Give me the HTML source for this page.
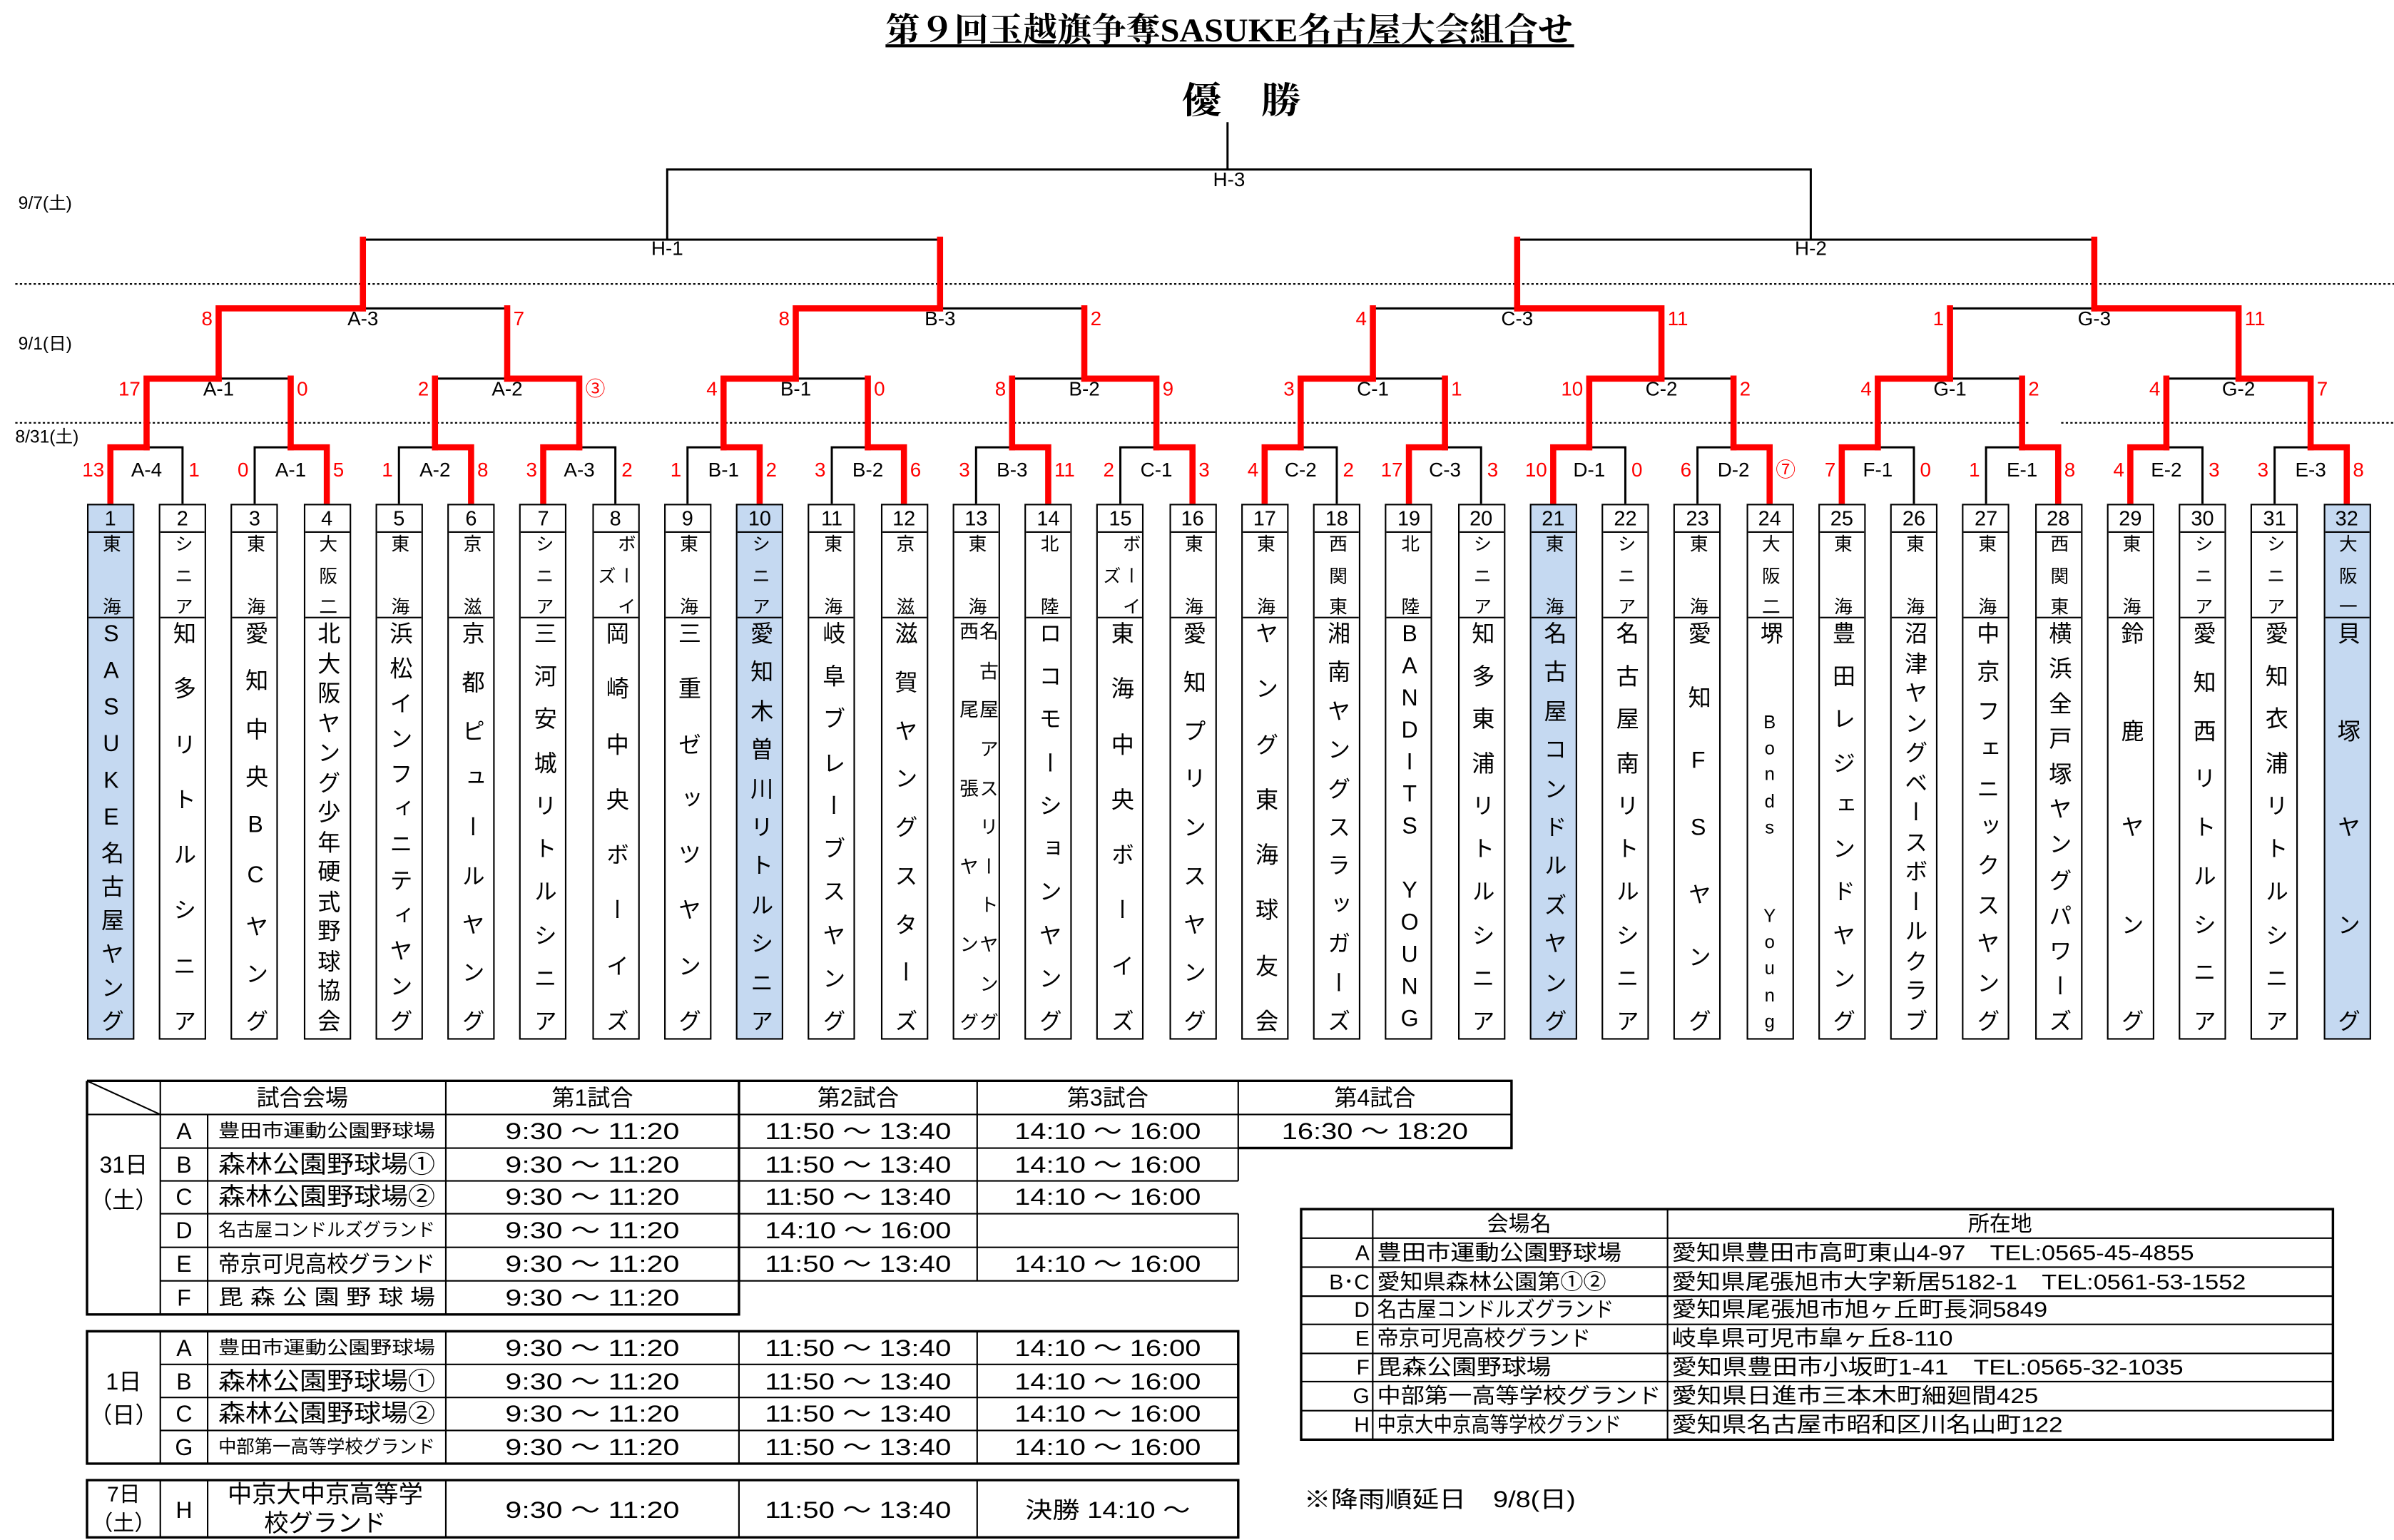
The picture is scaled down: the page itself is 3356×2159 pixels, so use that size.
<!DOCTYPE html>
<html><head><meta charset="utf-8">
<style>
html,body{margin:0;padding:0;background:#fff;width:3356px;height:2159px;overflow:hidden;}
#wrap{position:absolute;left:0;top:0;width:3356px;height:2159px;overflow:hidden;}
#c{position:absolute;left:0;top:0;width:1568px;height:1008.7px;overflow:hidden;transform:scale(2.14031);transform-origin:0 0;font-family:"Liberation Sans","Noto Sans CJK JP",sans-serif;}
svg{position:absolute;left:0;top:0;}
.b{position:absolute;top:330px;width:31px;height:351px;border:1.6px solid #000;box-sizing:border-box;display:flex;flex-direction:column;background:#fff;overflow:hidden;}
.b.h{background:#c5d9f1;}
.n{height:17px;border-bottom:1.6px solid #000;font-size:13.5px;line-height:17px;text-align:center;flex:none;}
.a{height:55px;border-bottom:1.6px solid #000;flex:none;display:flex;flex-direction:row-reverse;justify-content:center;overflow:hidden;}
.t{height:273px;flex:none;display:flex;flex-direction:row-reverse;justify-content:center;overflow:hidden;}
.col{writing-mode:vertical-rl;text-orientation:upright;display:flex;justify-content:space-between;align-items:center;box-sizing:border-box;}
.a .col{font-size:12px;padding:1px 0;line-height:13px;height:55px;}
.t .col{font-size:15px;padding:2px 0;line-height:16px;height:273px;}
.t .col.s{font-size:12.5px;line-height:13px;}
.a .col.m{justify-content:center;}
.lo{font-size:12px;}
</style></head><body><div id="wrap"><div id="c">
<svg width="1568" height="1009" viewBox="0 0 1568 1009" font-family="Liberation Sans, Noto Sans CJK JP, sans-serif">
<text x="805" y="27" font-size="22" font-weight="bold" text-anchor="middle" textLength="450" lengthAdjust="spacingAndGlyphs" font-family="Liberation Serif, Noto Serif CJK SC, serif">第９回玉越旗争奪SASUKE名古屋大会組合せ</text>
<line x1="580" y1="30" x2="1031" y2="30" stroke="#000" stroke-width="2"/>
<text x="813" y="74" font-size="24" font-weight="bold" text-anchor="middle" textLength="78" lengthAdjust="spacingAndGlyphs" font-family="Liberation Serif, Noto Serif CJK SC, serif">優　勝</text>
<g font-size="11.5">
<text x="12" y="137">9/7(土)</text>
<text x="12" y="229">9/1(日)</text>
<text x="10" y="290">8/31(土)</text>
</g>
<g stroke="#000" stroke-width="1" stroke-dasharray="1.5,1.5">
<line x1="10" y1="186" x2="1568" y2="186"/>
<line x1="10" y1="277" x2="1330" y2="277"/>
<line x1="1350" y1="277" x2="1568" y2="277"/>
</g>
<g fill="none" stroke="#000" stroke-width="1.4">
<path d="M72.3 330V293H119.55V330M166.8 330V293H214.05V330M261.3 330V293H308.55V330M355.8 330V293H403.05V330M450.3 330V293H497.55V330M544.8 330V293H592.05V330M639.3 330V293H686.55V330M733.8 330V293H781.05V330M828.3 330V293H875.55V330M922.8 330V293H970.05V330M1017.3 330V293H1064.55V330M1111.8 330V293H1159.05V330M1206.3 330V293H1253.55V330M1300.8 330V293H1348.05V330M1395.3 330V293H1442.55V330M1489.8 330V293H1537.05V330"/>
<path d="M96 293V248H190.4V293M284.9 293V248H379.4V293M473.9 293V248H568.4V293M662.9 293V248H757.4V293M851.9 293V248H946.4V293M1040.9 293V248H1135.4V293M1229.9 293V248H1324.4V293M1418.9 293V248H1513.4V293"/>
<path d="M143.2 248V202H332.2V248M521.2 248V202H710.2V248M899.2 248V202H1088.2V248M1277.2 248V202H1466.2V248"/>
<path d="M237.7 202V157H615.7V202M993.7 202V157H1371.7V202"/>
<path d="M437 157V111H1186V157M804 111V80"/>
</g>
<g fill="none" stroke="#f00" stroke-width="4" stroke-linejoin="miter" stroke-linecap="square">
<path d="M72.3 329V293H96M214.05 329V293H190.4M308.55 329V293H284.9M355.8 329V293H379.4M497.55 329V293H473.9M592.05 329V293H568.4M686.55 329V293H662.9M781.05 329V293H757.4M828.3 329V293H851.9M922.8 329V293H946.4M1017.3 329V293H1040.9M1159.05 329V293H1135.4M1206.3 329V293H1229.9M1348.05 329V293H1324.4M1395.3 329V293H1418.9M1537.05 329V293H1513.4"/>
<path d="M96 293V248H143.2M190.4 293V248M379.4 293V248H332.2M284.9 293V248M473.9 293V248H521.2M568.4 293V248M757.4 293V248H710.2M662.9 293V248M851.9 293V248H899.2M946.4 293V248M1040.9 293V248H1088.2M1135.4 293V248M1229.9 293V248H1277.2M1324.4 293V248M1513.4 293V248H1466.2M1418.9 293V248"/>
<path d="M143.2 248V202H237.7M332.2 248V202M521.2 248V202H615.7M710.2 248V202M1088.2 248V202H993.7M899.2 248V202M1466.2 248V202H1371.7M1277.2 248V202"/>
<path d="M237.7 202V157M615.7 202V157M993.7 202V157M1371.7 202V157"/>
</g>
<g font-size="13" text-anchor="middle">
<text x="96" y="312">A-4</text><text x="190.4" y="312">A-1</text><text x="284.9" y="312">A-2</text><text x="379.4" y="312">A-3</text>
<text x="473.9" y="312">B-1</text><text x="568.4" y="312">B-2</text><text x="662.9" y="312">B-3</text><text x="757.4" y="312">C-1</text>
<text x="851.9" y="312">C-2</text><text x="946.4" y="312">C-3</text><text x="1040.9" y="312">D-1</text><text x="1135.4" y="312">D-2</text>
<text x="1229.9" y="312">F-1</text><text x="1324.4" y="312">E-1</text><text x="1418.9" y="312">E-2</text><text x="1513.4" y="312">E-3</text>
<text x="143.2" y="259">A-1</text><text x="332.2" y="259">A-2</text><text x="521.2" y="259">B-1</text><text x="710.2" y="259">B-2</text>
<text x="899.2" y="259">C-1</text><text x="1088.2" y="259">C-2</text><text x="1277.2" y="259">G-1</text><text x="1466.2" y="259">G-2</text>
<text x="237.7" y="213">A-3</text><text x="615.7" y="213">B-3</text><text x="993.7" y="213">C-3</text><text x="1371.7" y="213">G-3</text>
<text x="437" y="167">H-1</text><text x="1186" y="167">H-2</text><text x="805" y="122">H-3</text>
</g>
<g font-size="13" fill="#f00" text-anchor="end">
<text x="68.3" y="312">13</text><text x="162.8" y="312">0</text><text x="257.3" y="312">1</text><text x="351.8" y="312">3</text>
<text x="446.3" y="312">1</text><text x="540.8" y="312">3</text><text x="635.3" y="312">3</text><text x="729.8" y="312">2</text>
<text x="824.3" y="312">4</text><text x="918.8" y="312">17</text><text x="1013.3" y="312">10</text><text x="1107.8" y="312">6</text>
<text x="1202.3" y="312">7</text><text x="1296.8" y="312">1</text><text x="1391.3" y="312">4</text><text x="1485.8" y="312">3</text>
<text x="92" y="259">17</text><text x="280.9" y="259">2</text><text x="469.9" y="259">4</text><text x="658.9" y="259">8</text>
<text x="847.9" y="259">3</text><text x="1036.9" y="259">10</text><text x="1225.9" y="259">4</text><text x="1414.9" y="259">4</text>
<text x="139.2" y="213">8</text><text x="517.2" y="213">8</text><text x="895.2" y="213">4</text><text x="1273.2" y="213">1</text>
</g>
<g font-size="13" fill="#f00" text-anchor="start">
<text x="123.55" y="312">1</text><text x="218.05" y="312">5</text><text x="312.55" y="312">8</text><text x="407.05" y="312">2</text>
<text x="501.55" y="312">2</text><text x="596.05" y="312">6</text><text x="690.55" y="312">11</text><text x="785.05" y="312">3</text>
<text x="879.55" y="312">2</text><text x="974.05" y="312">3</text><text x="1068.55" y="312">0</text><text x="1163.05" y="312">⑦</text>
<text x="1257.55" y="312">0</text><text x="1352.05" y="312">8</text><text x="1446.55" y="312">3</text><text x="1541.05" y="312">8</text>
<text x="194.4" y="259">0</text><text x="383.4" y="259">③</text><text x="572.4" y="259">0</text><text x="761.4" y="259">9</text>
<text x="950.4" y="259">1</text><text x="1139.4" y="259">2</text><text x="1328.4" y="259">2</text><text x="1517.4" y="259">7</text>
<text x="336.2" y="213">7</text><text x="714.2" y="213">2</text><text x="1092.2" y="213">11</text><text x="1470.2" y="213">11</text>
</g>

<g fill="none" stroke="#000" stroke-width="1">
<path d="M57 708H990V752M57 708V861H484M105 708V861M136 730V861M292 708V861M484 708V861M640 708V839M811 708V773.5M811 795V839M57 730H990M105 752H990M105 773.5H811M105 795H811M105 817H811M105 839H811"/>
<path d="M57 708L105 730"/>
<path d="M57 872H811V958.7H57ZM105 872V958.7M136 872V958.7M292 872V958.7M484 872V958.7M640 872V958.7M105 893.7H811M105 915.4H811M105 937H811"/>
<path d="M57 969.5H811V1007H57ZM105 969.5V1007M136 969.5V1007M292 969.5V1007M484 969.5V1007M640 969.5V1007"/>
<path d="M852.2 792H1528V943H852.2ZM899.1 792V943M1092.2 792V943M852.2 811H1528M852.2 830H1528M852.2 849H1528M852.2 867.5H1528M852.2 886.5H1528M852.2 905H1528M852.2 924H1528"/>
</g>
<g stroke="#000" stroke-width="1.6" fill="none">
<path d="M57 708H990V752H811M57 708V861H484V708M57 872H811V958.7H57ZM57 969.5H811V1007H57Z"/>
<path d="M852.2 792H1528V943H852.2Z"/>
</g>
<g font-size="15" text-anchor="middle" dominant-baseline="central">
<text x="198" y="719">試合会場</text><text x="388" y="719">第1試合</text><text x="562" y="719">第2試合</text><text x="725.5" y="719">第3試合</text><text x="900.5" y="719">第4試合</text>
<text x="81" y="763">31日</text><text x="81" y="786">（土）</text>
<text x="81" y="905">1日</text><text x="81" y="927">（日）</text>
<text x="81" y="979" font-size="14">7日</text><text x="81" y="998" font-size="14">（土）</text>
<text x="120.5" y="741">A</text><text x="120.5" y="763">B</text><text x="120.5" y="784">C</text><text x="120.5" y="806">D</text><text x="120.5" y="828">E</text><text x="120.5" y="850">F</text>
<text x="120.5" y="883">A</text><text x="120.5" y="905">B</text><text x="120.5" y="926">C</text><text x="120.5" y="948">G</text>
<text x="120.5" y="989">H</text>
<text x="214" y="741" font-size="12" textLength="142" lengthAdjust="spacingAndGlyphs">豊田市運動公園野球場</text>
<text x="214" y="763" font-size="16" textLength="142" lengthAdjust="spacingAndGlyphs">森林公園野球場①</text>
<text x="214" y="784" font-size="16" textLength="142" lengthAdjust="spacingAndGlyphs">森林公園野球場②</text>
<text x="214" y="806" font-size="12" textLength="142" lengthAdjust="spacingAndGlyphs">名古屋コンドルズグランド</text>
<text x="214" y="828" font-size="15" textLength="142" lengthAdjust="spacingAndGlyphs">帝京可児高校グランド</text>
<text x="214" y="850" font-size="14" textLength="142" lengthAdjust="spacingAndGlyphs">毘 森 公 園 野 球 場</text>
<text x="214" y="883" font-size="12" textLength="142" lengthAdjust="spacingAndGlyphs">豊田市運動公園野球場</text>
<text x="214" y="905" font-size="16" textLength="142" lengthAdjust="spacingAndGlyphs">森林公園野球場①</text>
<text x="214" y="926" font-size="16" textLength="142" lengthAdjust="spacingAndGlyphs">森林公園野球場②</text>
<text x="214" y="948" font-size="12" textLength="142" lengthAdjust="spacingAndGlyphs">中部第一高等学校グランド</text>
<text x="213" y="979" font-size="16">中京大中京高等学</text>
<text x="213" y="998" font-size="16">校グランド</text>
</g>
<g font-size="15" text-anchor="middle" dominant-baseline="central">
<text x="388" y="741" textLength="114" lengthAdjust="spacingAndGlyphs">9:30 ～ 11:20</text>
<text x="388" y="763" textLength="114" lengthAdjust="spacingAndGlyphs">9:30 ～ 11:20</text>
<text x="388" y="784" textLength="114" lengthAdjust="spacingAndGlyphs">9:30 ～ 11:20</text>
<text x="388" y="806" textLength="114" lengthAdjust="spacingAndGlyphs">9:30 ～ 11:20</text>
<text x="388" y="828" textLength="114" lengthAdjust="spacingAndGlyphs">9:30 ～ 11:20</text>
<text x="388" y="850" textLength="114" lengthAdjust="spacingAndGlyphs">9:30 ～ 11:20</text>
<text x="388" y="883" textLength="114" lengthAdjust="spacingAndGlyphs">9:30 ～ 11:20</text>
<text x="388" y="905" textLength="114" lengthAdjust="spacingAndGlyphs">9:30 ～ 11:20</text>
<text x="388" y="926" textLength="114" lengthAdjust="spacingAndGlyphs">9:30 ～ 11:20</text>
<text x="388" y="948" textLength="114" lengthAdjust="spacingAndGlyphs">9:30 ～ 11:20</text>
<text x="388" y="989" textLength="114" lengthAdjust="spacingAndGlyphs">9:30 ～ 11:20</text>
<text x="562" y="741" textLength="122" lengthAdjust="spacingAndGlyphs">11:50 ～ 13:40</text>
<text x="562" y="763" textLength="122" lengthAdjust="spacingAndGlyphs">11:50 ～ 13:40</text>
<text x="562" y="784" textLength="122" lengthAdjust="spacingAndGlyphs">11:50 ～ 13:40</text>
<text x="562" y="806" textLength="122" lengthAdjust="spacingAndGlyphs">14:10 ～ 16:00</text>
<text x="562" y="828" textLength="122" lengthAdjust="spacingAndGlyphs">11:50 ～ 13:40</text>
<text x="562" y="883" textLength="122" lengthAdjust="spacingAndGlyphs">11:50 ～ 13:40</text>
<text x="562" y="905" textLength="122" lengthAdjust="spacingAndGlyphs">11:50 ～ 13:40</text>
<text x="562" y="926" textLength="122" lengthAdjust="spacingAndGlyphs">11:50 ～ 13:40</text>
<text x="562" y="948" textLength="122" lengthAdjust="spacingAndGlyphs">11:50 ～ 13:40</text>
<text x="562" y="989" textLength="122" lengthAdjust="spacingAndGlyphs">11:50 ～ 13:40</text>
<text x="725.5" y="741" textLength="122" lengthAdjust="spacingAndGlyphs">14:10 ～ 16:00</text>
<text x="725.5" y="763" textLength="122" lengthAdjust="spacingAndGlyphs">14:10 ～ 16:00</text>
<text x="725.5" y="784" textLength="122" lengthAdjust="spacingAndGlyphs">14:10 ～ 16:00</text>
<text x="725.5" y="828" textLength="122" lengthAdjust="spacingAndGlyphs">14:10 ～ 16:00</text>
<text x="725.5" y="883" textLength="122" lengthAdjust="spacingAndGlyphs">14:10 ～ 16:00</text>
<text x="725.5" y="905" textLength="122" lengthAdjust="spacingAndGlyphs">14:10 ～ 16:00</text>
<text x="725.5" y="926" textLength="122" lengthAdjust="spacingAndGlyphs">14:10 ～ 16:00</text>
<text x="725.5" y="948" textLength="122" lengthAdjust="spacingAndGlyphs">14:10 ～ 16:00</text>
<text x="725.5" y="989" textLength="108" lengthAdjust="spacingAndGlyphs">決勝 14:10 ～</text>
<text x="900.5" y="741" textLength="122" lengthAdjust="spacingAndGlyphs">16:30 ～ 18:20</text>
</g>
<g font-size="14" dominant-baseline="central">
<text x="995" y="802" text-anchor="middle">会場名</text>
<text x="1310" y="802" text-anchor="middle">所在地</text>
<g text-anchor="end">
<text x="897" y="821">A</text><text x="897" y="840">B･C</text><text x="897" y="858">D</text><text x="897" y="877">E</text><text x="897" y="896">F</text><text x="897" y="914.5">G</text><text x="897" y="933.5">H</text>
</g>
<text x="902" y="821" textLength="160" lengthAdjust="spacingAndGlyphs">豊田市運動公園野球場</text>
<text x="902" y="840" textLength="150" lengthAdjust="spacingAndGlyphs">愛知県森林公園第①②</text>
<text x="902" y="858" textLength="155" lengthAdjust="spacingAndGlyphs">名古屋コンドルズグランド</text>
<text x="902" y="877" textLength="140" lengthAdjust="spacingAndGlyphs">帝京可児高校グランド</text>
<text x="902" y="896" textLength="114" lengthAdjust="spacingAndGlyphs">毘森公園野球場</text>
<text x="902" y="914.5" textLength="186" lengthAdjust="spacingAndGlyphs">中部第一高等学校グランド</text>
<text x="902" y="933.5" textLength="160" lengthAdjust="spacingAndGlyphs">中京大中京高等学校グランド</text>
<text x="1095" y="821" textLength="342" lengthAdjust="spacingAndGlyphs">愛知県豊田市高町東山4-97　TEL:0565-45-4855</text>
<text x="1095" y="840" textLength="376" lengthAdjust="spacingAndGlyphs">愛知県尾張旭市大字新居5182-1　TEL:0561-53-1552</text>
<text x="1095" y="858" textLength="246" lengthAdjust="spacingAndGlyphs">愛知県尾張旭市旭ヶ丘町長洞5849</text>
<text x="1095" y="877" textLength="184" lengthAdjust="spacingAndGlyphs">岐阜県可児市皐ヶ丘8-110</text>
<text x="1095" y="896" textLength="335" lengthAdjust="spacingAndGlyphs">愛知県豊田市小坂町1-41　TEL:0565-32-1035</text>
<text x="1095" y="914.5" textLength="240" lengthAdjust="spacingAndGlyphs">愛知県日進市三本木町細廻間425</text>
<text x="1095" y="933.5" textLength="256" lengthAdjust="spacingAndGlyphs">愛知県名古屋市昭和区川名山町122</text>
<text x="854" y="982" font-size="15" textLength="178" lengthAdjust="spacingAndGlyphs">※降雨順延日　9/8(日)</text>
</g>
</svg>

<div class="b h" style="left:56.8px"><div class="n">1</div><div class="a"><div class="col"><span>東</span><span>海</span></div></div><div class="t"><div class="col"><span>S</span><span>A</span><span>S</span><span>U</span><span>K</span><span>E</span><span>名</span><span>古</span><span>屋</span><span>ヤ</span><span>ン</span><span>グ</span></div></div></div>
<div class="b" style="left:104.05px"><div class="n">2</div><div class="a"><div class="col"><span>シ</span><span>ニ</span><span>ア</span></div></div><div class="t"><div class="col"><span>知</span><span>多</span><span>リ</span><span>ト</span><span>ル</span><span>シ</span><span>ニ</span><span>ア</span></div></div></div>
<div class="b" style="left:151.3px"><div class="n">3</div><div class="a"><div class="col"><span>東</span><span>海</span></div></div><div class="t"><div class="col"><span>愛</span><span>知</span><span>中</span><span>央</span><span>B</span><span>C</span><span>ヤ</span><span>ン</span><span>グ</span></div></div></div>
<div class="b" style="left:198.55px"><div class="n">4</div><div class="a"><div class="col"><span>大</span><span>阪</span><span>二</span></div></div><div class="t"><div class="col"><span>北</span><span>大</span><span>阪</span><span>ヤ</span><span>ン</span><span>グ</span><span>少</span><span>年</span><span>硬</span><span>式</span><span>野</span><span>球</span><span>協</span><span>会</span></div></div></div>
<div class="b" style="left:245.8px"><div class="n">5</div><div class="a"><div class="col"><span>東</span><span>海</span></div></div><div class="t"><div class="col"><span>浜</span><span>松</span><span>イ</span><span>ン</span><span>フ</span><span>ィ</span><span>ニ</span><span>テ</span><span>ィ</span><span>ヤ</span><span>ン</span><span>グ</span></div></div></div>
<div class="b" style="left:293.05px"><div class="n">6</div><div class="a"><div class="col"><span>京</span><span>滋</span></div></div><div class="t"><div class="col"><span>京</span><span>都</span><span>ピ</span><span>ュ</span><span>ー</span><span>ル</span><span>ヤ</span><span>ン</span><span>グ</span></div></div></div>
<div class="b" style="left:340.3px"><div class="n">7</div><div class="a"><div class="col"><span>シ</span><span>ニ</span><span>ア</span></div></div><div class="t"><div class="col"><span>三</span><span>河</span><span>安</span><span>城</span><span>リ</span><span>ト</span><span>ル</span><span>シ</span><span>ニ</span><span>ア</span></div></div></div>
<div class="b" style="left:387.55px"><div class="n">8</div><div class="a"><div class="col"><span>ボ</span><span>ー</span><span>イ</span></div><div class="col m"><span>ズ</span></div></div><div class="t"><div class="col"><span>岡</span><span>崎</span><span>中</span><span>央</span><span>ボ</span><span>ー</span><span>イ</span><span>ズ</span></div></div></div>
<div class="b" style="left:434.8px"><div class="n">9</div><div class="a"><div class="col"><span>東</span><span>海</span></div></div><div class="t"><div class="col"><span>三</span><span>重</span><span>ゼ</span><span>ッ</span><span>ツ</span><span>ヤ</span><span>ン</span><span>グ</span></div></div></div>
<div class="b h" style="left:482.05px"><div class="n">10</div><div class="a"><div class="col"><span>シ</span><span>ニ</span><span>ア</span></div></div><div class="t"><div class="col"><span>愛</span><span>知</span><span>木</span><span>曽</span><span>川</span><span>リ</span><span>ト</span><span>ル</span><span>シ</span><span>ニ</span><span>ア</span></div></div></div>
<div class="b" style="left:529.3px"><div class="n">11</div><div class="a"><div class="col"><span>東</span><span>海</span></div></div><div class="t"><div class="col"><span>岐</span><span>阜</span><span>ブ</span><span>レ</span><span>ー</span><span>ブ</span><span>ス</span><span>ヤ</span><span>ン</span><span>グ</span></div></div></div>
<div class="b" style="left:576.55px"><div class="n">12</div><div class="a"><div class="col"><span>京</span><span>滋</span></div></div><div class="t"><div class="col"><span>滋</span><span>賀</span><span>ヤ</span><span>ン</span><span>グ</span><span>ス</span><span>タ</span><span>ー</span><span>ズ</span></div></div></div>
<div class="b" style="left:623.8px"><div class="n">13</div><div class="a"><div class="col"><span>東</span><span>海</span></div></div><div class="t"><div class="col s"><span>名</span><span>古</span><span>屋</span><span>ア</span><span>ス</span><span>リ</span><span>ー</span><span>ト</span><span>ヤ</span><span>ン</span><span>グ</span></div><div class="col s"><span>西</span><span>尾</span><span>張</span><span>ヤ</span><span>ン</span><span>グ</span></div></div></div>
<div class="b" style="left:671.05px"><div class="n">14</div><div class="a"><div class="col"><span>北</span><span>陸</span></div></div><div class="t"><div class="col"><span>ロ</span><span>コ</span><span>モ</span><span>ー</span><span>シ</span><span>ョ</span><span>ン</span><span>ヤ</span><span>ン</span><span>グ</span></div></div></div>
<div class="b" style="left:718.3px"><div class="n">15</div><div class="a"><div class="col"><span>ボ</span><span>ー</span><span>イ</span></div><div class="col m"><span>ズ</span></div></div><div class="t"><div class="col"><span>東</span><span>海</span><span>中</span><span>央</span><span>ボ</span><span>ー</span><span>イ</span><span>ズ</span></div></div></div>
<div class="b" style="left:765.55px"><div class="n">16</div><div class="a"><div class="col"><span>東</span><span>海</span></div></div><div class="t"><div class="col"><span>愛</span><span>知</span><span>プ</span><span>リ</span><span>ン</span><span>ス</span><span>ヤ</span><span>ン</span><span>グ</span></div></div></div>
<div class="b" style="left:812.8px"><div class="n">17</div><div class="a"><div class="col"><span>東</span><span>海</span></div></div><div class="t"><div class="col"><span>ヤ</span><span>ン</span><span>グ</span><span>東</span><span>海</span><span>球</span><span>友</span><span>会</span></div></div></div>
<div class="b" style="left:860.05px"><div class="n">18</div><div class="a"><div class="col"><span>西</span><span>関</span><span>東</span></div></div><div class="t"><div class="col"><span>湘</span><span>南</span><span>ヤ</span><span>ン</span><span>グ</span><span>ス</span><span>ラ</span><span>ッ</span><span>ガ</span><span>ー</span><span>ズ</span></div></div></div>
<div class="b" style="left:907.3px"><div class="n">19</div><div class="a"><div class="col"><span>北</span><span>陸</span></div></div><div class="t"><div class="col"><span>B</span><span>A</span><span>N</span><span>D</span><span>I</span><span>T</span><span>S</span><span>&nbsp;</span><span>Y</span><span>O</span><span>U</span><span>N</span><span>G</span></div></div></div>
<div class="b" style="left:954.55px"><div class="n">20</div><div class="a"><div class="col"><span>シ</span><span>ニ</span><span>ア</span></div></div><div class="t"><div class="col"><span>知</span><span>多</span><span>東</span><span>浦</span><span>リ</span><span>ト</span><span>ル</span><span>シ</span><span>ニ</span><span>ア</span></div></div></div>
<div class="b h" style="left:1001.8px"><div class="n">21</div><div class="a"><div class="col"><span>東</span><span>海</span></div></div><div class="t"><div class="col"><span>名</span><span>古</span><span>屋</span><span>コ</span><span>ン</span><span>ド</span><span>ル</span><span>ズ</span><span>ヤ</span><span>ン</span><span>グ</span></div></div></div>
<div class="b" style="left:1049.05px"><div class="n">22</div><div class="a"><div class="col"><span>シ</span><span>ニ</span><span>ア</span></div></div><div class="t"><div class="col"><span>名</span><span>古</span><span>屋</span><span>南</span><span>リ</span><span>ト</span><span>ル</span><span>シ</span><span>ニ</span><span>ア</span></div></div></div>
<div class="b" style="left:1096.3px"><div class="n">23</div><div class="a"><div class="col"><span>東</span><span>海</span></div></div><div class="t"><div class="col"><span>愛</span><span>知</span><span>F</span><span>S</span><span>ヤ</span><span>ン</span><span>グ</span></div></div></div>
<div class="b" style="left:1143.55px"><div class="n">24</div><div class="a"><div class="col"><span>大</span><span>阪</span><span>二</span></div></div><div class="t"><div class="col"><span>堺</span><span>&nbsp;</span><span>&nbsp;</span><span class="lo">B</span><span class="lo">o</span><span class="lo">n</span><span class="lo">d</span><span class="lo">s</span><span>&nbsp;</span><span>&nbsp;</span><span class="lo">Y</span><span class="lo">o</span><span class="lo">u</span><span class="lo">n</span><span class="lo">g</span></div></div></div>
<div class="b" style="left:1190.8px"><div class="n">25</div><div class="a"><div class="col"><span>東</span><span>海</span></div></div><div class="t"><div class="col"><span>豊</span><span>田</span><span>レ</span><span>ジ</span><span>ェ</span><span>ン</span><span>ド</span><span>ヤ</span><span>ン</span><span>グ</span></div></div></div>
<div class="b" style="left:1238.05px"><div class="n">26</div><div class="a"><div class="col"><span>東</span><span>海</span></div></div><div class="t"><div class="col"><span>沼</span><span>津</span><span>ヤ</span><span>ン</span><span>グ</span><span>ベ</span><span>ー</span><span>ス</span><span>ボ</span><span>ー</span><span>ル</span><span>ク</span><span>ラ</span><span>ブ</span></div></div></div>
<div class="b" style="left:1285.3px"><div class="n">27</div><div class="a"><div class="col"><span>東</span><span>海</span></div></div><div class="t"><div class="col"><span>中</span><span>京</span><span>フ</span><span>ェ</span><span>ニ</span><span>ッ</span><span>ク</span><span>ス</span><span>ヤ</span><span>ン</span><span>グ</span></div></div></div>
<div class="b" style="left:1332.55px"><div class="n">28</div><div class="a"><div class="col"><span>西</span><span>関</span><span>東</span></div></div><div class="t"><div class="col"><span>横</span><span>浜</span><span>全</span><span>戸</span><span>塚</span><span>ヤ</span><span>ン</span><span>グ</span><span>パ</span><span>ワ</span><span>ー</span><span>ズ</span></div></div></div>
<div class="b" style="left:1379.8px"><div class="n">29</div><div class="a"><div class="col"><span>東</span><span>海</span></div></div><div class="t"><div class="col"><span>鈴</span><span>鹿</span><span>ヤ</span><span>ン</span><span>グ</span></div></div></div>
<div class="b" style="left:1427.05px"><div class="n">30</div><div class="a"><div class="col"><span>シ</span><span>ニ</span><span>ア</span></div></div><div class="t"><div class="col"><span>愛</span><span>知</span><span>西</span><span>リ</span><span>ト</span><span>ル</span><span>シ</span><span>ニ</span><span>ア</span></div></div></div>
<div class="b" style="left:1474.3px"><div class="n">31</div><div class="a"><div class="col"><span>シ</span><span>ニ</span><span>ア</span></div></div><div class="t"><div class="col"><span>愛</span><span>知</span><span>衣</span><span>浦</span><span>リ</span><span>ト</span><span>ル</span><span>シ</span><span>ニ</span><span>ア</span></div></div></div>
<div class="b h" style="left:1521.55px"><div class="n">32</div><div class="a"><div class="col"><span>大</span><span>阪</span><span>一</span></div></div><div class="t"><div class="col"><span>貝</span><span>塚</span><span>ヤ</span><span>ン</span><span>グ</span></div></div></div>
</div></div></body></html>
